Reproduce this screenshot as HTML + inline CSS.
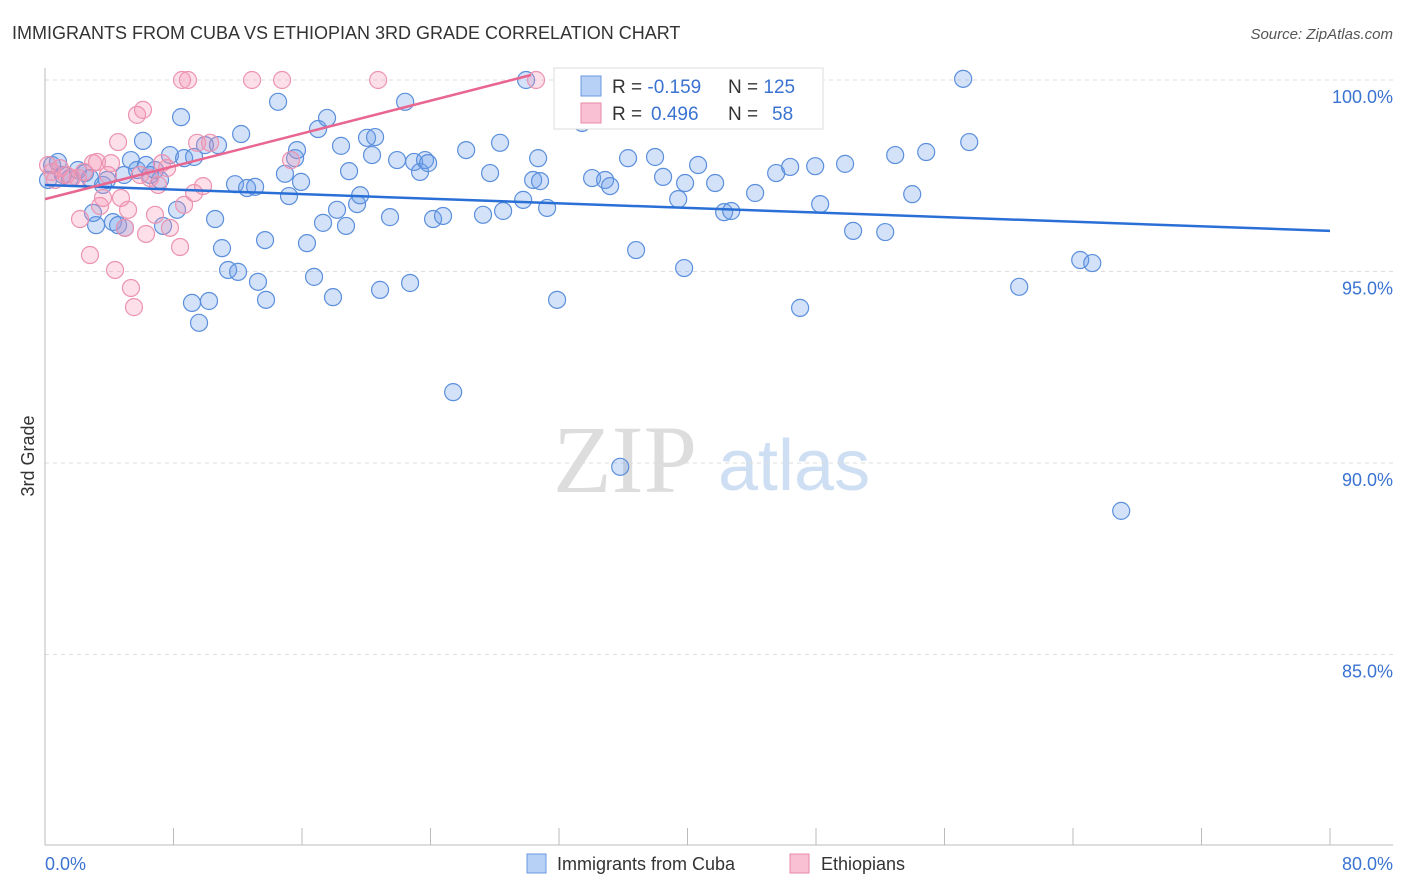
<!DOCTYPE html>
<html><head><meta charset="utf-8"><style>
body{margin:0;background:#fff;font-family:"Liberation Sans",sans-serif}
svg{display:block}
</style></head><body>
<svg id="chart" width="1406" height="892" xmlns="http://www.w3.org/2000/svg">
<text x="12" y="39" font-size="18" fill="#333">IMMIGRANTS FROM CUBA VS ETHIOPIAN 3RD GRADE CORRELATION CHART</text>
<text x="1393" y="39" font-size="15" fill="#555" font-style="italic" text-anchor="end">Source: ZipAtlas.com</text>
<g>
<text x="553" y="492" font-size="96" font-family="Liberation Serif,serif" fill="#ddd">ZIP</text>
<text x="718" y="490" font-size="72" fill="#cfdff3">atlas</text>
</g>
<g id="grid"></g><g id="axes"></g><g id="pts"></g><g id="trend"></g>
<text transform="translate(34,456) rotate(-90)" font-size="18" fill="#333" text-anchor="middle">3rd Grade</text>
<g>
<rect x="554" y="68" width="269" height="61" fill="#fff" stroke="#ddd"/>
<rect x="581" y="76" width="20" height="20" fill="#b7d0f5" stroke="#6a9ae0"/>
<rect x="581" y="103" width="20" height="20" fill="#f8c0d2" stroke="#e88aa8"/>
<text x="612" y="93" font-size="19" fill="#333">R = <tspan fill="#3b73d1">-0.159</tspan><tspan x="728">N = </tspan><tspan fill="#3b73d1">125</tspan></text>
<text x="612" y="120" font-size="19" fill="#333">R = <tspan fill="#3b73d1" x="651">0.496</tspan><tspan x="728">N = </tspan><tspan fill="#3b73d1" x="772">58</tspan></text>
</g>
<g>
<rect x="527" y="854" width="19" height="19" fill="#b7d0f5" stroke="#6a9ae0"/>
<text x="557" y="870" font-size="18" fill="#333">Immigrants from Cuba</text>
<rect x="790" y="854" width="19" height="19" fill="#f8c0d2" stroke="#e88aa8"/>
<text x="821" y="870" font-size="18" fill="#333">Ethiopians</text>
</g>
</svg>
<script>
const cubaX=[.19,.44,.81,1.12,1.56,2.05,2.49,2.80,3.18,2.99,3.61,3.86,4.23,4.55,4.98,4.92,5.35,5.73,6.10,6.29,6.54,6.85,7.16,7.35,7.78,8.22,8.47,8.66,9.15,9.28,9.59,9.96,10.21,10.59,10.77,11.02,11.40,11.83,12.02,12.21,12.58,13.08,13.26,13.70,13.76,14.51,14.94,15.19,15.57,15.69,15.94,16.31,16.75,17.00,17.31,17.56,17.93,18.18,18.43,18.74,18.93,19.43,19.62,20.05,20.36,20.55,20.86,21.48,21.92,22.42,22.73,22.98,23.35,23.66,23.85,24.16,24.78,25.41,26.22,27.27,27.71,28.33,28.52,29.77,29.95,30.39,30.70,30.82,31.26,31.88,33.44,34.06,34.87,35.18,35.81,36.30,36.80,37.98,38.48,39.42,39.79,39.85,40.66,41.72,42.28,42.72,44.21,45.52,46.39,47.01,47.95,48.26,49.81,50.31,52.31,52.93,53.99,54.86,57.16,57.54,60.65,64.45,65.20,67.00];
const cubaY=[97.39,97.78,97.86,97.52,97.44,97.65,97.57,97.44,96.21,96.53,97.26,97.39,96.29,96.21,96.14,97.52,97.91,97.65,98.41,97.78,97.52,97.65,97.39,96.19,98.04,96.61,99.03,97.96,94.18,97.99,93.66,98.30,94.23,96.37,98.30,95.61,95.04,97.28,94.99,98.59,97.18,97.21,94.73,95.82,94.26,99.43,97.55,96.97,97.96,98.17,97.34,95.74,94.86,98.72,96.27,99.01,94.33,96.61,98.28,96.19,97.62,96.76,96.99,98.49,98.04,98.51,94.52,96.42,97.91,99.43,94.70,97.86,97.60,97.91,97.83,96.37,96.45,91.85,98.17,96.48,97.57,98.36,96.58,96.87,100.0,97.39,97.96,97.36,96.66,94.26,98.88,97.44,97.39,97.23,89.90,97.96,95.56,97.99,97.47,96.89,95.09,97.31,97.78,97.31,96.55,96.58,97.05,97.57,97.73,94.05,97.75,96.76,97.81,96.06,96.03,98.04,97.02,98.12,100.03,98.38,94.60,95.30,95.22,88.75];
const ethX=[.19,.44,.62,.93,1.31,1.68,2.05,2.18,2.43,2.80,2.99,3.24,3.43,3.61,3.92,4.11,4.36,4.55,4.73,4.98,5.17,5.35,5.54,5.73,5.92,6.10,6.29,6.54,6.85,7.04,7.29,7.60,7.78,8.41,8.53,8.90,8.66,9.28,9.47,9.84,10.28,12.89,14.76,15.32,20.74,30.57,33.13];
const ethY=[97.78,97.60,97.39,97.70,97.52,97.44,97.44,96.37,97.60,95.43,97.83,97.86,96.71,96.92,97.52,97.83,95.04,98.38,96.92,96.14,96.61,94.57,94.07,99.09,97.52,99.22,95.98,97.44,96.48,97.26,97.83,97.70,96.14,95.64,100,100,96.74,97.05,98.36,97.23,98.36,100,100,97.91,100,100,100];
const cubaTrendX=[0,80], cubaTrendY=[97.26,96.06];
const ethTrendX=[0,30.26], ethTrendY=[96.89,100.13];
const yTicks=[100,95,90,85];
const yTickLabels=["100.0%","95.0%","90.0%","85.0%"];
const xTicks=[0,8,16,24,32,40,48,56,64,72,80];
const NS="http://www.w3.org/2000/svg";
const sx=v=>45+v*(1285/80);
const sy=v=>80+(100-v)*38.3;
function mk(t,a,p){const e=document.createElementNS(NS,t);for(const k in a)e.setAttribute(k,a[k]);p.appendChild(e);return e;}
const grid=document.getElementById('grid'),axes=document.getElementById('axes');
yTicks.forEach((v,i)=>{
 const l=mk('line',{x1:45,x2:1393,y1:sy(v),y2:sy(v),stroke:'#ddd','stroke-dasharray':'4,4'},grid);
 
 
 const t=mk('text',{x:1393,y:sy(v)+23,'font-size':18,fill:'#3b73d1','text-anchor':'end'},axes);
 t.textContent=yTickLabels[i];
 
 
});
let a=mk('line',{x1:45,x2:45,y1:68,y2:845,stroke:'#bbb'},axes);


a=mk('line',{x1:45,x2:1393,y1:845,y2:845,stroke:'#bbb'},axes);


xTicks.forEach(v=>{
 const l=mk('line',{x1:sx(v),x2:sx(v),y1:828,y2:845,stroke:'#bbb'},axes);
 
 
});
let t=mk('text',{x:45,y:870,'font-size':18,fill:'#3b73d1'},axes);t.textContent=xTicks[0].toFixed(1)+'%';


t=mk('text',{x:1393,y:870,'font-size':18,fill:'#3b73d1','text-anchor':'end'},axes);t.textContent=xTicks[xTicks.length-1].toFixed(1)+'%';


const pts=document.getElementById('pts');
cubaX.forEach((x,i)=>{
 const c=mk('circle',{cx:sx(x),cy:sy(cubaY[i]),r:8.5,fill:'rgba(110,160,235,0.3)',stroke:'#5b8fdc','stroke-width':1.2},pts);
 
 
});
ethX.forEach((x,i)=>{
 const c=mk('circle',{cx:sx(x),cy:sy(ethY[i]),r:8.5,fill:'rgba(245,150,180,0.3)',stroke:'#ec93b0','stroke-width':1.2},pts);
 
 
});
const tr=document.getElementById('trend');
let L=mk('line',{x1:sx(cubaTrendX[0]),y1:sy(cubaTrendY[0]),x2:sx(cubaTrendX[1]),y2:sy(cubaTrendY[1]),stroke:'#2a6fd6','stroke-width':2.5},tr);


L=mk('line',{x1:sx(ethTrendX[0]),y1:sy(ethTrendY[0]),x2:sx(ethTrendX[1]),y2:sy(ethTrendY[1]),stroke:'#e8668f','stroke-width':2.5},tr);


</script>
</body></html>
